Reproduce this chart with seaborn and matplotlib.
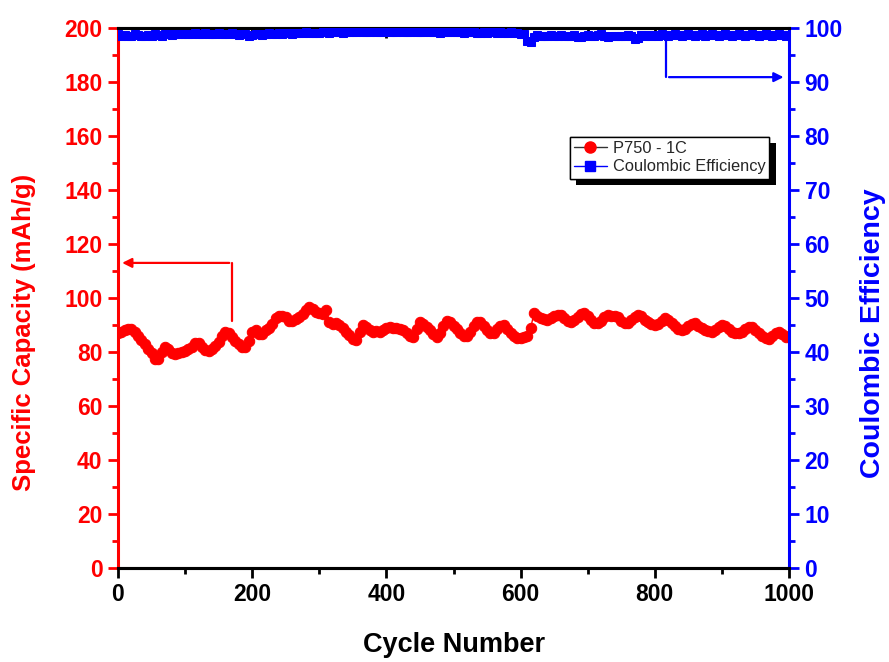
import matplotlib
matplotlib.use("Agg")
import matplotlib.pyplot as plt
import matplotlib.patheffects as pe
from matplotlib.lines import Line2D
from matplotlib.ticker import MultipleLocator
import numpy as np
import pandas as pd
import seaborn as sns

cycles = list(range(0, 1001, 5))

capacity = [
    87.0, 87.5, 88.0, 88.7, 88.6, 87.5, 86.0, 84.6, 83.0, 81.2,
    79.5, 77.5, 77.5, 80.0, 82.0, 81.0, 79.5, 79.2, 79.5, 80.0,
    80.5, 81.2, 82.0, 83.2, 83.5, 82.0, 80.8, 80.2, 81.0, 82.3,
    83.8, 85.8, 87.5, 87.0, 85.6, 84.0, 82.8, 82.0, 81.8, 84.0,
    87.5, 88.0, 86.8, 86.5, 88.0, 89.0, 90.5, 92.5, 93.5, 93.3,
    92.8, 91.5, 91.5, 92.3, 93.0, 94.0, 95.5, 96.8, 96.0, 95.0,
    94.5, 94.2, 95.6, 91.0, 90.5, 90.6, 90.0, 88.8, 87.5, 86.2,
    84.8, 84.6, 87.5, 90.0, 89.3, 88.0, 87.5, 87.6, 87.5, 88.0,
    88.8, 89.4, 89.0, 88.8, 88.5, 88.1, 87.2, 85.8, 85.5, 88.5,
    91.2, 90.5, 89.2, 88.0, 86.5, 85.6, 87.0, 89.5, 91.5, 91.0,
    89.8, 88.5, 87.0, 85.8, 86.0, 87.5, 89.5, 91.0, 91.0, 89.5,
    88.0, 87.0, 87.2, 88.5, 89.8, 90.0, 88.5, 87.0, 85.8, 85.2,
    85.3, 85.5, 86.0, 88.8, 94.5, 93.5, 92.5, 92.2, 92.0, 92.5,
    93.5, 93.8, 93.6, 92.5, 91.5, 91.2, 91.8, 93.0, 94.2, 94.3,
    93.5, 92.0, 90.8, 90.6, 91.5, 92.8, 93.7, 93.5, 93.5, 92.8,
    91.6, 90.8, 90.8, 91.8, 93.0, 93.7, 93.3, 92.0, 91.0, 90.3,
    90.0, 90.5, 91.6, 92.5, 92.0, 90.8, 89.5, 88.6, 88.1, 88.6,
    89.5, 90.4, 90.6, 89.8, 88.8, 88.0, 87.6, 87.5, 88.2, 89.3,
    90.0, 89.5, 88.5, 87.5, 87.0, 86.9, 87.5, 88.5, 89.3, 89.3,
    88.2, 87.0, 86.0, 85.3, 85.0, 85.8, 87.0, 87.5, 86.5, 85.6,
    85.8,
]

efficiency = [
    98.8, 98.6, 98.7, 98.5, 98.6, 98.8, 98.7, 98.6, 98.5, 98.7,
    98.6, 98.8, 98.7, 98.6, 98.8, 98.9, 98.7, 98.8, 98.9, 98.8,
    98.9, 98.8, 98.9, 99.0, 98.8, 98.9, 99.0, 98.9, 98.8, 98.9,
    99.0, 98.9, 98.8, 98.9, 99.0, 98.8, 98.7, 98.9, 98.8, 98.6,
    98.7, 98.9, 98.8, 98.7, 98.9, 99.0, 98.9, 98.8, 99.0, 98.9,
    99.0, 99.1, 98.9, 99.0, 99.1, 99.0, 99.2, 99.1, 99.0, 99.1,
    99.1, 99.2, 99.3, 99.1, 99.2, 99.3, 99.2, 99.1, 99.2, 99.3,
    99.3, 99.2, 99.4, 99.3, 99.2, 99.3, 99.4, 99.3, 99.2, 99.3,
    99.4, 99.3, 99.2, 99.3, 99.4, 99.3, 99.2, 99.3, 99.4, 99.3,
    99.2, 99.3, 99.4, 99.2, 99.3, 99.2, 99.1, 99.3, 99.2, 99.3,
    99.2, 99.3, 99.2, 99.1, 99.2, 99.3, 99.2, 99.1, 99.0, 99.2,
    99.1, 99.2, 99.3, 99.1, 99.2, 99.0, 99.1, 99.2, 99.1, 99.0,
    98.9, 98.9, 97.6, 97.5, 98.4, 98.7, 98.5, 98.6, 98.5, 98.7,
    98.6, 98.5, 98.7, 98.6, 98.5, 98.6, 98.7, 98.3, 98.4, 98.6,
    98.7, 98.6, 98.5, 98.7, 98.8, 98.6, 98.3, 98.5, 98.6, 98.6,
    98.6, 98.6, 98.7, 98.6, 98.0, 98.2, 98.7, 98.6, 98.7, 98.6,
    98.7, 98.6, 98.8, 98.7, 98.6, 98.7, 98.8, 98.7, 98.6, 98.7,
    98.8, 98.7, 98.6, 98.7, 98.8, 98.6, 98.7, 98.8, 98.7, 98.6,
    98.7, 98.8, 98.7, 98.6, 98.7, 98.8, 98.7, 98.6, 98.7, 98.8,
    98.7, 98.6, 98.7, 98.8, 98.7, 98.6, 98.7, 98.8, 98.7, 98.6,
    98.7,
]

x_ticks = [0, 200, 400, 600, 800, 1000]
left_ticks = list(range(0, 201, 20))
right_ticks = list(range(0, 101, 10))

df = pd.DataFrame({"cycle": cycles, "capacity": capacity, "ce": efficiency})

sns.set_theme(style="ticks")
plt.rcParams["font.family"] = ["Liberation Sans", "DejaVu Sans"]
plt.rcParams["font.weight"] = "bold"

RED = "#ff0000"
BLUE = "#0000ff"

fig = plt.figure(figsize=(8.89, 6.62), dpi=100)
ax = fig.add_axes([118 / 889, 1 - 568 / 662, (789 - 118) / 889, (568 - 28) / 662])
ax2 = ax.twinx()

sns.lineplot(data=df, x="cycle", y="capacity", ax=ax, color=RED, linewidth=1.0,
             marker="o", markersize=7.5, markeredgecolor=RED, markerfacecolor=RED,
             zorder=3)
sns.lineplot(data=df, x="cycle", y="ce", ax=ax2, color=BLUE, linewidth=1.0,
             marker="s", markersize=6, markeredgecolor=BLUE, markerfacecolor=BLUE,
             zorder=3)

ax.set_xlim(0, 1000)
ax.set_ylim(0, 200)
ax2.set_ylim(0, 100)
ax.set_xticks(x_ticks)
ax.set_yticks(left_ticks)
ax2.set_yticks(right_ticks)
ax.xaxis.set_minor_locator(MultipleLocator(100))
ax.yaxis.set_minor_locator(MultipleLocator(10))
ax2.yaxis.set_minor_locator(MultipleLocator(5))

for a in (ax, ax2):
    for s in a.spines.values():
        s.set_linewidth(2.2)
ax.spines["left"].set_color(RED)
ax2.spines["left"].set_visible(False)
ax2.spines["right"].set_color(BLUE)
ax.spines["right"].set_visible(False)
ax.spines["bottom"].set_color("black")
ax.spines["top"].set_color("black")
ax2.spines["top"].set_color("black")
ax2.spines["bottom"].set_color("black")

TS = 16.5
ax.tick_params(axis="y", which="major", colors=RED, labelcolor=RED, direction="out",
               length=7.2, width=2, labelsize=TS, pad=4)
ax.tick_params(axis="y", which="minor", colors=RED, direction="out", length=4.3, width=2)
ax2.tick_params(axis="y", which="major", colors=BLUE, labelcolor=BLUE, direction="out",
                length=7.2, width=2, labelsize=TS, pad=4)
ax2.tick_params(axis="y", which="minor", colors=BLUE, direction="out", length=4.3, width=2)
ax.tick_params(axis="x", which="major", colors="black", direction="out", length=7,
               width=2, labelsize=TS, top=True, pad=4)
ax.tick_params(axis="x", which="minor", colors="black", direction="out", length=4,
               width=2, top=True)
for t in ax.xaxis.get_major_ticks() + ax.xaxis.get_minor_ticks():
    t.tick2line.set_marker(3)  # inward top ticks
for lab in ax.get_xticklabels() + ax.get_yticklabels() + ax2.get_yticklabels():
    lab.set_fontweight("bold")

ax.set_xlabel("Cycle Number", fontsize=19.5, fontweight="bold", color="black")
ax.set_ylabel("Specific Capacity (mAh/g)", fontsize=18.5, fontweight="bold", color=RED)
ax2.set_ylabel("Coulombic Efficiency", fontsize=20.5, fontweight="bold", color=BLUE)
ax.xaxis.set_label_coords(0.5007, -0.118)
ax.yaxis.set_label_coords(-0.122, 0.437)
ax2.yaxis.set_label_coords(1.1055, 0.435)

ax.grid(False)
ax2.grid(False)

# annotation arrows
ax.plot([170, 170], [91.5, 113], color=RED, lw=1.6, zorder=2)
ax.annotate("", xy=(2, 113), xytext=(170, 113),
            arrowprops=dict(arrowstyle="-|>", color=RED, lw=1.6, mutation_scale=14))
ax2.plot([817, 817], [98.0, 90.9], color=BLUE, lw=1.6, zorder=2)
ax2.annotate("", xy=(996, 90.9), xytext=(817, 90.9),
             arrowprops=dict(arrowstyle="-|>", color=BLUE, lw=1.6, mutation_scale=14))

handles = [
    Line2D([], [], color="#333333", lw=1.0, marker="o", markersize=8,
           markerfacecolor=RED, markeredgecolor=RED),
    Line2D([], [], color=BLUE, lw=1.0, marker="s", markersize=7,
           markerfacecolor=BLUE, markeredgecolor=BLUE),
]
leg = ax2.legend(handles, ["P750 - 1C", "Coulombic Efficiency"],
                 loc="upper left", bbox_to_anchor=(0.6736, 0.798), frameon=True,
                 fancybox=False, framealpha=1, edgecolor="black",
                 prop={"size": 11.8, "weight": "normal"}, handlelength=2.0,
                 borderpad=0.25, labelspacing=0.2, handletextpad=0.35,
                 borderaxespad=0)
leg.get_frame().set_linewidth(1.0)
leg.get_frame().set_path_effects([
    pe.withSimplePatchShadow(offset=(4.5, -4.5), shadow_rgbFace="black", alpha=1.0),
    pe.Normal(),
])

fig.savefig("out.png", dpi=100)
